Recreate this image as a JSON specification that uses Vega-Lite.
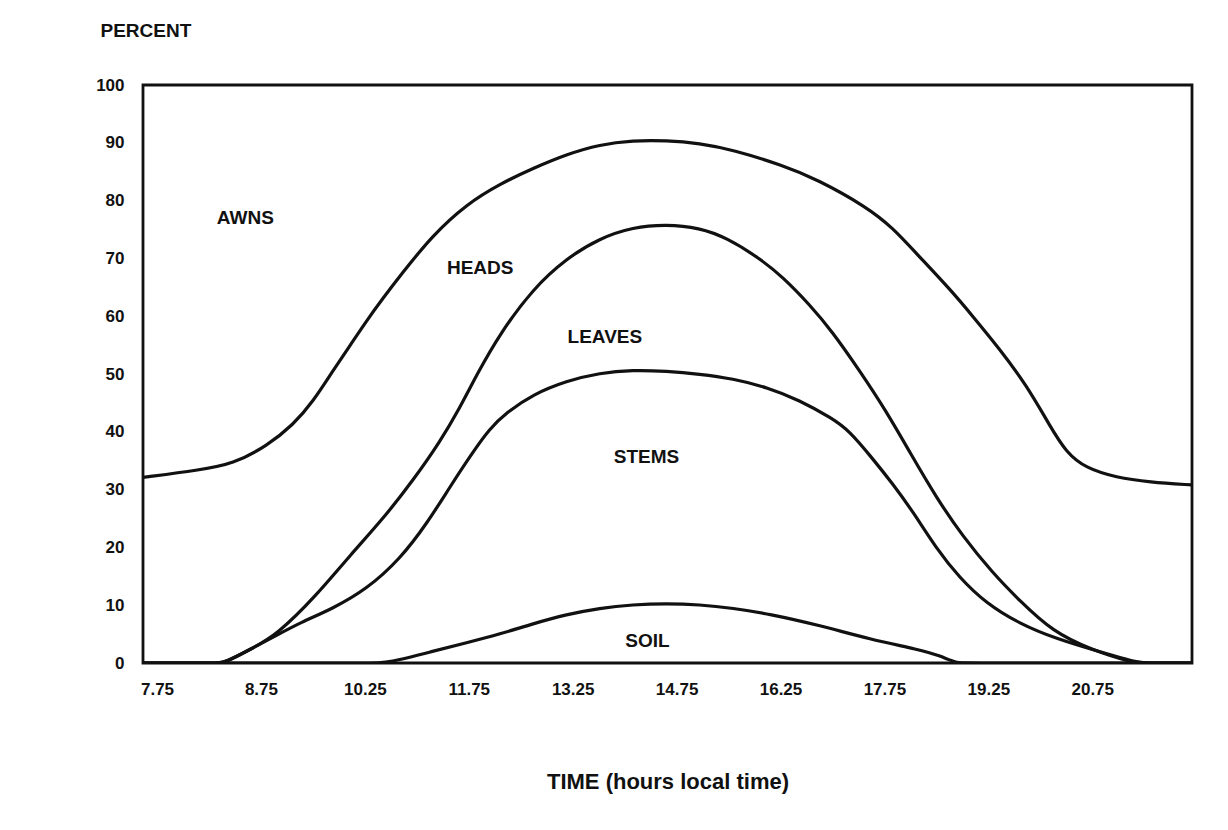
{
  "$schema": "https://vega.github.io/schema/vega-lite/v6.json",
  "autosize": {"type": "none"},
  "width": 1049,
  "height": 578,
  "padding": {"left": 143, "top": 85, "right": 36, "bottom": 167},
  "background": "white",
  "config": {
    "view": {"stroke": "#111", "strokeWidth": 2.8},
    "font": "Liberation Sans"
  },
  "datasets": {
    "curves": [
      {"series": "Heads", "pos": -0.135, "pct": 32.1},
      {"series": "Heads", "pos": 0.41, "pct": 33.4},
      {"series": "Heads", "pos": 0.73, "pct": 34.4},
      {"series": "Heads", "pos": 1.06, "pct": 37.6},
      {"series": "Heads", "pos": 1.31, "pct": 41.2},
      {"series": "Heads", "pos": 1.50, "pct": 45.2},
      {"series": "Heads", "pos": 1.69, "pct": 50.5},
      {"series": "Heads", "pos": 1.86, "pct": 55.0},
      {"series": "Heads", "pos": 2.02, "pct": 59.3},
      {"series": "Heads", "pos": 2.17, "pct": 63.0},
      {"series": "Heads", "pos": 2.34, "pct": 67.0},
      {"series": "Heads", "pos": 2.65, "pct": 74.0},
      {"series": "Heads", "pos": 2.98, "pct": 79.4},
      {"series": "Heads", "pos": 3.30, "pct": 82.9},
      {"series": "Heads", "pos": 3.62, "pct": 85.6},
      {"series": "Heads", "pos": 3.94, "pct": 88.0},
      {"series": "Heads", "pos": 4.26, "pct": 89.7},
      {"series": "Heads", "pos": 4.58, "pct": 90.4},
      {"series": "Heads", "pos": 4.90, "pct": 90.4},
      {"series": "Heads", "pos": 5.22, "pct": 89.9},
      {"series": "Heads", "pos": 5.54, "pct": 88.8},
      {"series": "Heads", "pos": 6.02, "pct": 86.1},
      {"series": "Heads", "pos": 6.35, "pct": 83.7},
      {"series": "Heads", "pos": 6.83, "pct": 78.9},
      {"series": "Heads", "pos": 7.08, "pct": 75.3},
      {"series": "Heads", "pos": 7.31, "pct": 70.8},
      {"series": "Heads", "pos": 7.63, "pct": 64.7},
      {"series": "Heads", "pos": 7.85, "pct": 60.0},
      {"series": "Heads", "pos": 8.11, "pct": 54.3},
      {"series": "Heads", "pos": 8.37, "pct": 48.0},
      {"series": "Heads", "pos": 8.59, "pct": 41.1},
      {"series": "Heads", "pos": 8.75, "pct": 36.4},
      {"series": "Heads", "pos": 8.94, "pct": 33.7},
      {"series": "Heads", "pos": 9.23, "pct": 32.1},
      {"series": "Heads", "pos": 9.55, "pct": 31.3},
      {"series": "Heads", "pos": 9.96, "pct": 30.8},

      {"series": "Leaves", "pos": -0.135, "pct": 0},
      {"series": "Leaves", "pos": 0.55, "pct": 0},
      {"series": "Leaves", "pos": 0.65, "pct": 0},
      {"series": "Leaves", "pos": 0.89, "pct": 2.3},
      {"series": "Leaves", "pos": 1.15, "pct": 4.8},
      {"series": "Leaves", "pos": 1.54, "pct": 11.8},
      {"series": "Leaves", "pos": 1.86, "pct": 18.7},
      {"series": "Leaves", "pos": 2.17, "pct": 24.8},
      {"series": "Leaves", "pos": 2.48, "pct": 32.0},
      {"series": "Leaves", "pos": 2.72, "pct": 38.2},
      {"series": "Leaves", "pos": 2.91, "pct": 44.0},
      {"series": "Leaves", "pos": 3.08, "pct": 50.0},
      {"series": "Leaves", "pos": 3.30, "pct": 57.0},
      {"series": "Leaves", "pos": 3.62, "pct": 64.8},
      {"series": "Leaves", "pos": 3.94, "pct": 70.0},
      {"series": "Leaves", "pos": 4.26, "pct": 73.5},
      {"series": "Leaves", "pos": 4.58, "pct": 75.4},
      {"series": "Leaves", "pos": 4.90, "pct": 75.9},
      {"series": "Leaves", "pos": 5.22, "pct": 75.3},
      {"series": "Leaves", "pos": 5.48, "pct": 73.6},
      {"series": "Leaves", "pos": 5.80, "pct": 70.0},
      {"series": "Leaves", "pos": 6.02, "pct": 66.8},
      {"series": "Leaves", "pos": 6.28, "pct": 62.0},
      {"series": "Leaves", "pos": 6.50, "pct": 57.3},
      {"series": "Leaves", "pos": 6.76, "pct": 50.6},
      {"series": "Leaves", "pos": 7.02, "pct": 43.5},
      {"series": "Leaves", "pos": 7.24, "pct": 36.6},
      {"series": "Leaves", "pos": 7.50, "pct": 28.6},
      {"series": "Leaves", "pos": 7.75, "pct": 22.0},
      {"series": "Leaves", "pos": 8.04, "pct": 15.6},
      {"series": "Leaves", "pos": 8.30, "pct": 10.8},
      {"series": "Leaves", "pos": 8.62, "pct": 5.4},
      {"series": "Leaves", "pos": 9.00, "pct": 2.2},
      {"series": "Leaves", "pos": 9.40, "pct": 0},
      {"series": "Leaves", "pos": 9.50, "pct": 0},
      {"series": "Leaves", "pos": 9.96, "pct": 0},

      {"series": "Stems", "pos": -0.135, "pct": 0},
      {"series": "Stems", "pos": 0.55, "pct": 0},
      {"series": "Stems", "pos": 0.65, "pct": 0},
      {"series": "Stems", "pos": 0.89, "pct": 2.3},
      {"series": "Stems", "pos": 1.15, "pct": 4.8},
      {"series": "Stems", "pos": 1.38, "pct": 7.0},
      {"series": "Stems", "pos": 1.69, "pct": 9.4},
      {"series": "Stems", "pos": 2.02, "pct": 12.8},
      {"series": "Stems", "pos": 2.34, "pct": 18.0},
      {"series": "Stems", "pos": 2.60, "pct": 24.2},
      {"series": "Stems", "pos": 2.82, "pct": 30.5},
      {"series": "Stems", "pos": 3.04, "pct": 36.5},
      {"series": "Stems", "pos": 3.20, "pct": 40.5},
      {"series": "Stems", "pos": 3.36, "pct": 43.3},
      {"series": "Stems", "pos": 3.62, "pct": 46.5},
      {"series": "Stems", "pos": 3.94, "pct": 48.8},
      {"series": "Stems", "pos": 4.26, "pct": 50.2},
      {"series": "Stems", "pos": 4.58, "pct": 50.7},
      {"series": "Stems", "pos": 4.90, "pct": 50.5},
      {"series": "Stems", "pos": 5.22, "pct": 50.0},
      {"series": "Stems", "pos": 5.54, "pct": 49.2},
      {"series": "Stems", "pos": 5.87, "pct": 47.7},
      {"series": "Stems", "pos": 6.18, "pct": 45.5},
      {"series": "Stems", "pos": 6.50, "pct": 42.3},
      {"series": "Stems", "pos": 6.66, "pct": 40.2},
      {"series": "Stems", "pos": 6.88, "pct": 35.5},
      {"series": "Stems", "pos": 7.08, "pct": 31.0},
      {"series": "Stems", "pos": 7.27, "pct": 26.3},
      {"series": "Stems", "pos": 7.50, "pct": 19.8},
      {"series": "Stems", "pos": 7.72, "pct": 14.8},
      {"series": "Stems", "pos": 7.98, "pct": 10.3},
      {"series": "Stems", "pos": 8.30, "pct": 6.8},
      {"series": "Stems", "pos": 8.65, "pct": 4.2},
      {"series": "Stems", "pos": 9.10, "pct": 1.8},
      {"series": "Stems", "pos": 9.45, "pct": 0},
      {"series": "Stems", "pos": 9.55, "pct": 0},
      {"series": "Stems", "pos": 9.96, "pct": 0},

      {"series": "Soil", "pos": -0.135, "pct": 0},
      {"series": "Soil", "pos": 2.12, "pct": 0},
      {"series": "Soil", "pos": 2.21, "pct": 0},
      {"series": "Soil", "pos": 2.65, "pct": 2.0},
      {"series": "Soil", "pos": 2.98, "pct": 3.5},
      {"series": "Soil", "pos": 3.30, "pct": 5.0},
      {"series": "Soil", "pos": 3.62, "pct": 6.8},
      {"series": "Soil", "pos": 3.94, "pct": 8.4},
      {"series": "Soil", "pos": 4.26, "pct": 9.5},
      {"series": "Soil", "pos": 4.58, "pct": 10.1},
      {"series": "Soil", "pos": 4.90, "pct": 10.3},
      {"series": "Soil", "pos": 5.22, "pct": 10.1},
      {"series": "Soil", "pos": 5.54, "pct": 9.5},
      {"series": "Soil", "pos": 5.89, "pct": 8.5},
      {"series": "Soil", "pos": 6.38, "pct": 6.5},
      {"series": "Soil", "pos": 6.86, "pct": 4.1},
      {"series": "Soil", "pos": 7.34, "pct": 2.3},
      {"series": "Soil", "pos": 7.53, "pct": 1.3},
      {"series": "Soil", "pos": 7.69, "pct": 0},
      {"series": "Soil", "pos": 7.78, "pct": 0},
      {"series": "Soil", "pos": 9.96, "pct": 0}
    ],
    "labels": [
      {"name": "AWNS", "pos": 0.85, "pct": 77.0},
      {"name": "HEADS", "pos": 3.11, "pct": 68.3},
      {"name": "LEAVES", "pos": 4.31, "pct": 56.4},
      {"name": "STEMS", "pos": 4.71, "pct": 35.6},
      {"name": "SOIL", "pos": 4.72, "pct": 3.8}
    ]
  },
  "layer": [
    {
      "data": {"name": "curves"},
      "mark": {"type": "line", "interpolate": "basis", "color": "#111", "strokeWidth": 3.2, "strokeCap": "round", "strokeJoin": "round", "clip": true},
      "encoding": {
        "x": {
          "field": "pos",
          "type": "quantitative",
          "scale": {"domain": [-0.135, 9.96], "nice": false, "zero": false},
          "axis": {
            "values": [0, 1, 2, 3, 4, 5, 6, 7, 8, 9],
            "labelExpr": "['7.75','8.75','10.25','11.75','13.25','14.75','16.25','17.75','19.25','20.75'][datum.value]",
            "grid": false,
            "domain": false,
            "ticks": false,
            "tickSize": 0,
            "labelPadding": 18,
            "labelBaseline": "top",
            "labelFont": "Liberation Sans",
            "labelFontWeight": "bold",
            "labelFontSize": 17,
            "labelColor": "#111",
            "labelFlush": false,
            "title": "TIME (hours local time)",
            "titleFont": "Liberation Sans",
            "titleFontWeight": "bold",
            "titleFontSize": 22,
            "titleColor": "#111",
            "titleBaseline": "middle",
            "titleY": 118
          }
        },
        "y": {
          "field": "pct",
          "type": "quantitative",
          "scale": {"domain": [0, 100], "nice": false},
          "axis": {
            "values": [0, 10, 20, 30, 40, 50, 60, 70, 80, 90, 100],
            "grid": false,
            "domain": false,
            "ticks": false,
            "tickSize": 0,
            "labelPadding": 19,
            "labelFont": "Liberation Sans",
            "labelFontWeight": "bold",
            "labelFontSize": 17,
            "labelColor": "#111",
            "labelFlush": false,
            "title": "PERCENT",
            "titleAngle": 0,
            "titleAlign": "left",
            "titleBaseline": "middle",
            "titleX": -43,
            "titleY": -55,
            "titleFont": "Liberation Sans",
            "titleFontWeight": "bold",
            "titleFontSize": 19,
            "titleColor": "#111"
          }
        },
        "detail": {"field": "series", "type": "nominal"}
      }
    },
    {
      "data": {"name": "labels"},
      "mark": {"type": "text", "font": "Liberation Sans", "fontWeight": "bold", "fontSize": 19, "color": "#111", "align": "center", "baseline": "middle"},
      "encoding": {
        "x": {"field": "pos", "type": "quantitative"},
        "y": {"field": "pct", "type": "quantitative"},
        "text": {"field": "name", "type": "nominal"}
      }
    }
  ]
}
